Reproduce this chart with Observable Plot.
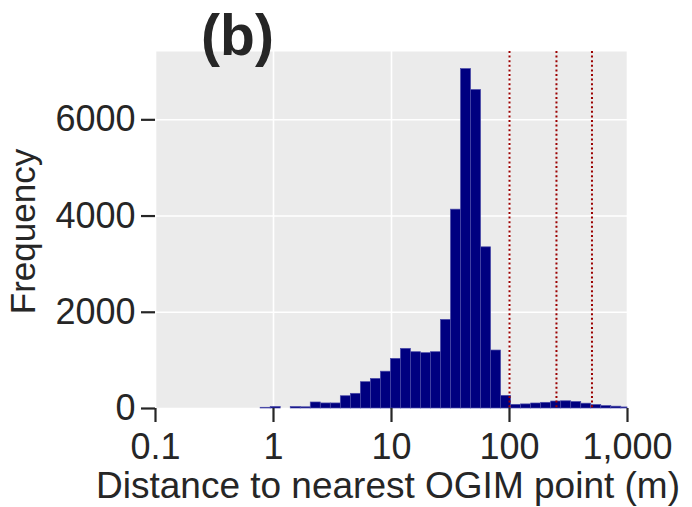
<!DOCTYPE html>
<html><head><meta charset="utf-8">
<script src="https://cdn.jsdelivr.net/npm/d3@7"></script>
<script src="https://cdn.jsdelivr.net/npm/@observablehq/plot@0.6"></script>
<style>body{margin:0;background:#fff} svg{display:block}</style>
</head><body><div id="chart"></div>
<script>
// Histogram bin edges (m, log-spaced) and frequencies
const binEdges = [0.778, 0.947, 1.151, 1.400, 1.702, 2.069, 2.516, 3.059, 3.720, 4.523,
  5.500, 6.687, 8.128, 9.884, 12.02, 14.61, 17.77, 21.60, 26.27, 31.94,
  38.84, 47.22, 57.42, 69.81, 84.88, 103.2, 125.5, 152.6, 185.5, 225.6,
  274.3, 333.4, 405.4, 492.9, 599.3, 728.7, 886.0, 1000];
const counts = [15, 30, 0, 30, 25, 125, 105, 105, 255, 305,
  547, 615, 765, 1032, 1240, 1170, 1150, 1170, 1842, 4133,
  7055, 6619, 3350, 1205, 263, 76, 85, 104, 118, 145,
  150, 135, 100, 72, 50, 38, 22];
const refLines = [100, 250, 500];
const xTicks = [0.1, 1, 10, 100, 1000];
const xTickLabels = ["0.1", "1", "10", "100", "1,000"];
const yTicks = [0, 2000, 4000, 6000];
const yTickLabels = ["0", "2000", "4000", "6000"];
const titleText = "(b)";
const xLabel = "Distance to nearest OGIM point (m)";
const yLabel = "Frequency";

const bins = counts.map((c, i) => ({x1: binEdges[i], x2: binEdges[i + 1], y: c}));
const font = "'Liberation Sans', Arial, Helvetica, sans-serif";
const ink = "#262626";

const chart = Plot.plot({
  width: 692, height: 507,
  marginLeft: 155, marginRight: 65, marginTop: 51, marginBottom: 99,
  style: {fontFamily: font, color: ink, background: "white"},
  x: {type: "log", domain: [0.1, 1000]},
  y: {domain: [0, 7420]},
  marks: [
    Plot.frame({fill: "#EBEBEB", stroke: null}),
    Plot.gridX(xTicks, {stroke: "white", strokeOpacity: 1, strokeWidth: 1.6}),
    Plot.gridY(yTicks, {stroke: "white", strokeOpacity: 1, strokeWidth: 1.6}),
    Plot.rectY(bins, {x1: "x1", x2: "x2", y: "y", fill: "#000080", stroke: "#4a4aa8", strokeWidth: 0.7}),
    Plot.ruleX(refLines, {stroke: "#9b0000", strokeWidth: 2, strokeDasharray: "2,2.6"}),
    Plot.axisX(xTicks, {tickSize: 14, tickPadding: 11, fontSize: 36, stroke: ink, strokeWidth: 2.2,
      tickFormat: d => xTickLabels[xTicks.indexOf(d)], label: null}),
    Plot.axisY(yTicks, {tickSize: 14, tickPadding: 6, fontSize: 36, stroke: ink, strokeWidth: 2.2,
      tickFormat: d => yTickLabels[yTicks.indexOf(d)], label: null})
  ]
});

const svg = d3.select(chart);
svg.append("text").text(titleText)
  .attr("x", 237.5).attr("y", 55).attr("text-anchor", "middle")
  .attr("font-family", font).attr("font-weight", "bold").attr("font-size", 57).attr("fill", ink);
svg.append("text").text(xLabel)
  .attr("x", 388).attr("y", 498).attr("text-anchor", "middle")
  .attr("font-family", font).attr("font-size", 37).attr("fill", ink);
svg.append("text").text(yLabel)
  .attr("transform", "translate(35,231.5) rotate(-90)").attr("text-anchor", "middle")
  .attr("font-family", font).attr("font-size", 35).attr("fill", ink);

document.getElementById("chart").append(chart);
</script>
</body></html>
